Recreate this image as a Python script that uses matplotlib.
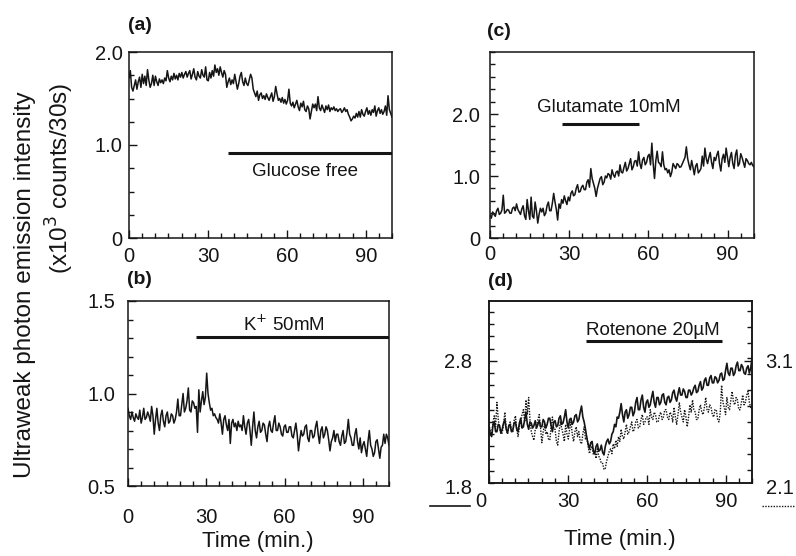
import numpy as np
import matplotlib
matplotlib.use("Agg")
import matplotlib.pyplot as plt
from matplotlib.lines import Line2D
from matplotlib.ticker import MultipleLocator
from matplotlib.transforms import ScaledTranslation

W, H = 796, 556

# emission traces, one sample per 30 s (0..100 min)
glucose_free = [
    1.72, 1.80, 1.62, 1.58, 1.64, 1.70, 1.60, 1.68, 1.73, 1.62, 1.76, 1.66, 1.74, 1.64, 1.81, 1.70, 1.62, 1.66, 1.75, 1.64,
    1.74, 1.68, 1.64, 1.71, 1.67, 1.70, 1.66, 1.72, 1.69, 1.80, 1.72, 1.68, 1.74, 1.70, 1.77, 1.71, 1.75, 1.70, 1.77, 1.73,
    1.78, 1.72, 1.76, 1.79, 1.73, 1.77, 1.80, 1.71, 1.76, 1.82, 1.73, 1.70, 1.79, 1.74, 1.72, 1.81, 1.75, 1.73, 1.84, 1.70,
    1.69, 1.78, 1.72, 1.80, 1.74, 1.86, 1.78, 1.82, 1.75, 1.84, 1.78, 1.73, 1.80, 1.76, 1.62, 1.68, 1.72, 1.65, 1.70, 1.66,
    1.76, 1.68, 1.60, 1.66, 1.74, 1.78, 1.68, 1.64, 1.72, 1.66, 1.64, 1.70, 1.76, 1.72, 1.60, 1.56, 1.52, 1.58, 1.48, 1.54,
    1.56, 1.50, 1.53, 1.49, 1.55, 1.51, 1.48, 1.52, 1.56, 1.47, 1.52, 1.63, 1.55, 1.48, 1.50, 1.46, 1.51, 1.45, 1.49, 1.44,
    1.48, 1.60, 1.45, 1.42, 1.46, 1.40, 1.44, 1.48, 1.41, 1.37, 1.45, 1.41, 1.47, 1.38, 1.36, 1.42, 1.39, 1.28, 1.36, 1.44,
    1.40, 1.44, 1.37, 1.52, 1.40, 1.37, 1.43, 1.39, 1.35, 1.42, 1.38, 1.43, 1.36, 1.40, 1.38, 1.41, 1.37, 1.39, 1.36, 1.38,
    1.39, 1.35, 1.37, 1.40, 1.36, 1.38, 1.33, 1.30, 1.26, 1.28, 1.31, 1.29, 1.34, 1.30, 1.36, 1.30, 1.38, 1.33, 1.31, 1.36,
    1.40, 1.33, 1.37, 1.32, 1.38, 1.35, 1.42, 1.31, 1.37, 1.40, 1.34, 1.38, 1.33, 1.36, 1.42, 1.32, 1.53, 1.38, 1.34, 1.30,
]
k_50mm = [
    0.92, 0.88, 0.86, 0.90, 0.87, 0.85, 0.89, 0.87, 0.86, 0.91, 0.84, 0.87, 0.92, 0.86, 0.87, 0.90, 0.88, 0.85, 0.93, 0.88,
    0.78, 0.86, 0.92, 0.84, 0.80, 0.88, 0.91, 0.85, 0.82, 0.88, 0.90, 0.84, 0.85, 0.89, 0.88, 0.84, 0.86, 0.90, 0.97, 0.88,
    0.88, 0.94, 1.00, 0.90, 0.92, 0.96, 1.03, 0.91, 0.90, 0.96, 0.95, 0.92, 0.93, 0.79, 1.02, 0.90, 0.96, 1.01, 0.94, 0.98,
    1.11, 1.00, 0.95, 0.91, 0.92, 0.88, 0.89, 0.87, 0.86, 0.84, 0.89, 0.84, 0.78, 0.86, 0.88, 0.83, 0.80, 0.86, 0.73, 0.84,
    0.86, 0.82, 0.84, 0.80, 0.85, 0.82, 0.83, 0.80, 0.88, 0.82, 0.78, 0.84, 0.86, 0.80, 0.72, 0.82, 0.90, 0.80, 0.76, 0.82,
    0.85, 0.79, 0.80, 0.84, 0.83, 0.78, 0.74, 0.82, 0.85, 0.80, 0.79, 0.84, 0.88, 0.80, 0.80, 0.84, 0.82, 0.78, 0.77, 0.82,
    0.83, 0.79, 0.79, 0.82, 0.82, 0.77, 0.76, 0.80, 0.84, 0.78, 0.69, 0.75, 0.80, 0.77, 0.78, 0.82, 0.83, 0.76, 0.74, 0.80,
    0.80, 0.76, 0.77, 0.82, 0.85, 0.78, 0.73, 0.80, 0.82, 0.76, 0.78, 0.82, 0.80, 0.75, 0.69, 0.74, 0.76, 0.80, 0.74, 0.78,
    0.78, 0.74, 0.72, 0.77, 0.80, 0.73, 0.74, 0.79, 0.86, 0.78, 0.76, 0.72, 0.72, 0.78, 0.81, 0.74, 0.70, 0.76, 0.68, 0.72,
    0.74, 0.70, 0.66, 0.74, 0.80, 0.72, 0.70, 0.66, 0.68, 0.74, 0.75, 0.70, 0.65, 0.71, 0.72, 0.78, 0.73, 0.78, 0.76, 0.72,
]
glutamate = [
    0.37, 0.32, 0.42, 0.38, 0.35, 0.44, 0.48, 0.38, 0.40, 0.45, 0.69, 0.40, 0.42, 0.46, 0.45, 0.40, 0.40, 0.48, 0.50, 0.44,
    0.55, 0.46, 0.42, 0.38, 0.47, 0.52, 0.36, 0.30, 0.62, 0.44, 0.30, 0.66, 0.35, 0.32, 0.58, 0.44, 0.24, 0.38, 0.48, 0.42,
    0.48, 0.36, 0.40, 0.52, 0.58, 0.44, 0.44, 0.56, 0.72, 0.58, 0.46, 0.29, 0.55, 0.48, 0.62, 0.56, 0.68, 0.60, 0.54, 0.66,
    0.60, 0.72, 0.76, 0.68, 0.70, 0.80, 0.86, 0.74, 0.75, 0.82, 0.85, 0.78, 0.78, 0.90, 0.94, 0.82, 1.12, 0.96, 0.88, 0.80,
    0.67, 0.80, 0.88, 0.96, 0.99, 0.86, 0.90, 1.00, 0.97, 1.04, 1.02, 0.95, 1.10, 1.02, 0.98, 1.06, 1.08, 1.00, 1.18, 1.06,
    1.05, 1.14, 1.22, 1.08, 1.12, 1.20, 1.28, 1.10, 1.15, 1.24, 1.25, 1.16, 1.39, 1.20, 1.12, 1.26, 1.30, 1.18, 1.22, 1.32,
    1.35, 1.18, 1.53, 1.20, 0.96, 1.25, 1.40, 1.22, 1.20, 1.15, 1.39, 1.18, 1.10, 1.12, 1.05, 1.10, 0.99, 1.06, 1.20, 1.16,
    1.12, 1.20, 1.18, 1.14, 1.15, 1.20, 1.25, 1.30, 1.47, 1.28, 1.18, 1.10, 1.25, 1.14, 1.02, 1.16, 1.20, 1.05, 1.08, 1.12,
    1.32, 1.16, 1.45, 1.28, 1.20, 1.30, 1.38, 1.22, 1.12, 1.30, 1.25, 1.34, 1.40, 1.20, 1.08, 1.28, 1.35, 1.22, 1.45, 1.30,
    1.15, 1.30, 1.38, 1.20, 1.12, 1.34, 1.42, 1.16, 1.20, 1.36, 1.30, 1.22, 1.14, 1.28, 1.25, 1.20, 1.18, 1.22, 1.17, 1.15,
]
rotenone_solid = [  # left scale
    2.26, 2.20, 2.18, 2.27, 2.30, 2.22, 2.22, 2.28, 2.27, 2.21, 2.24, 2.29, 2.32, 2.24, 2.21, 2.27, 2.28, 2.22, 2.23, 2.29,
    2.30, 2.24, 2.22, 2.29, 2.33, 2.25, 2.26, 2.32, 2.38, 2.28, 2.24, 2.30, 2.29, 2.25, 2.27, 2.31, 2.25, 2.28, 2.31, 2.26,
    2.26, 2.32, 2.30, 2.25, 2.28, 2.33, 2.33, 2.27, 2.22, 2.30, 2.31, 2.26, 2.27, 2.33, 2.35, 2.28, 2.29, 2.34, 2.40, 2.30,
    2.25, 2.32, 2.33, 2.28, 2.30, 2.35, 2.36, 2.30, 2.32, 2.38, 2.43, 2.34, 2.30, 2.24, 2.17, 2.12, 2.08, 2.13, 2.14, 2.06,
    2.04, 2.10, 2.12, 2.06, 2.07, 2.11, 2.05, 2.03, 2.10, 2.14, 2.16, 2.12, 2.14, 2.20, 2.22, 2.28, 2.26, 2.34, 2.33, 2.38,
    2.45, 2.36, 2.30, 2.38, 2.40, 2.33, 2.36, 2.42, 2.42, 2.35, 2.38, 2.46, 2.50, 2.40, 2.40, 2.48, 2.52, 2.42, 2.38, 2.46,
    2.48, 2.42, 2.44, 2.50, 2.55, 2.46, 2.42, 2.50, 2.50, 2.44, 2.46, 2.52, 2.53, 2.46, 2.44, 2.50, 2.51, 2.46, 2.48, 2.54,
    2.56, 2.50, 2.47, 2.53, 2.58, 2.52, 2.52, 2.57, 2.55, 2.50, 2.50, 2.56, 2.56, 2.52, 2.54, 2.58, 2.60, 2.54, 2.55, 2.60,
    2.63, 2.56, 2.58, 2.64, 2.66, 2.60, 2.60, 2.66, 2.68, 2.62, 2.62, 2.67, 2.66, 2.62, 2.64, 2.69, 2.70, 2.64, 2.65, 2.72,
    2.78, 2.70, 2.68, 2.74, 2.74, 2.68, 2.70, 2.76, 2.79, 2.72, 2.72, 2.77, 2.75, 2.70, 2.69, 2.74, 2.76, 2.70, 2.74, 2.82,
]
rotenone_dotted = [  # right scale
    2.58, 2.52, 2.50, 2.60, 2.65, 2.56, 2.76, 2.62, 2.55, 2.50, 2.51, 2.58, 2.68, 2.55, 2.50, 2.56, 2.60, 2.53, 2.52, 2.61,
    2.65, 2.54, 2.48, 2.56, 2.60, 2.66, 2.70, 2.60, 2.78, 2.66, 2.80, 2.62, 2.52, 2.48, 2.45, 2.54, 2.56, 2.62, 2.66, 2.55,
    2.43, 2.52, 2.58, 2.50, 2.52, 2.46, 2.45, 2.56, 2.64, 2.54, 2.54, 2.44, 2.41, 2.52, 2.60, 2.55, 2.50, 2.44, 2.58, 2.50,
    2.46, 2.54, 2.60, 2.50, 2.44, 2.52, 2.56, 2.48, 2.52, 2.44, 2.42, 2.50, 2.56, 2.46, 2.48, 2.40, 2.34, 2.38, 2.40, 2.33,
    2.36, 2.30, 2.38, 2.32, 2.30, 2.26, 2.26, 2.21, 2.22, 2.28, 2.32, 2.36, 2.38, 2.34, 2.42, 2.38, 2.45, 2.40, 2.48, 2.44,
    2.54, 2.48, 2.46, 2.52, 2.58, 2.50, 2.52, 2.56, 2.60, 2.52, 2.54, 2.60, 2.62, 2.55, 2.56, 2.62, 2.66, 2.58, 2.60, 2.64,
    2.64, 2.58, 2.70, 2.64, 2.62, 2.68, 2.66, 2.60, 2.60, 2.66, 2.68, 2.62, 2.64, 2.70, 2.70, 2.64, 2.62, 2.68, 2.66, 2.60,
    2.72, 2.64, 2.58, 2.66, 2.76, 2.68, 2.64, 2.60, 2.70, 2.64, 2.56, 2.64, 2.74, 2.68, 2.78, 2.70, 2.68, 2.62, 2.62, 2.70,
    2.74, 2.68, 2.66, 2.72, 2.80, 2.70, 2.68, 2.74, 2.72, 2.66, 2.64, 2.70, 2.70, 2.62, 2.60, 2.68, 2.90, 2.76, 2.72, 2.66,
    2.80, 2.72, 2.70, 2.78, 2.85, 2.76, 2.74, 2.80, 2.78, 2.70, 2.70, 2.76, 2.82, 2.74, 2.76, 2.82, 2.85, 2.76, 2.72, 2.70,
]
minutes = np.linspace(0, 100, len(glucose_free))

# treatment bars: (start, end, level), label
bar_a, text_a = (37.6, 100, 0.91), "Glucose free"
bar_b, text_b = (26, 100, 1.305), "K$^{+}$ 50mM"
bar_c, text_c = (27.3, 56.6, 1.84), "Glutamate 10mM"
bar_d, text_d = (36.9, 88.6, 2.96), "Rotenone 20\u00b5M"

plt.rcParams["font.family"] = ["Liberation Sans", "DejaVu Sans"]
ink = "#151515"
TICK = 14.5

fig = plt.figure(figsize=(W / 100, H / 100), dpi=100)


def box(l, t, r, b):
    return fig.add_axes([l / W, 1 - b / H, (r - l) / W, (b - t) / H])


def style(ax, ylim, yticks, ylabels, yminor, xpad, ypad):
    ax.set_xlim(0, 100)
    ax.set_ylim(*ylim)
    ax.set_xticks([0, 30, 60, 90], ["0", "30", "60", "90"])
    ax.xaxis.set_minor_locator(MultipleLocator(5))
    ax.set_yticks(yticks, ylabels)
    ax.yaxis.set_minor_locator(MultipleLocator(yminor))
    ax.tick_params(which="both", direction="in", color=ink, width=1)
    ax.tick_params(which="major", length=6)
    ax.tick_params(which="minor", length=3.5)
    ax.tick_params(axis="x", pad=xpad, labelsize=TICK, labelcolor=ink)
    ax.tick_params(axis="y", pad=ypad, labelsize=TICK, labelcolor=ink)
    for s in ax.spines.values():
        s.set_linewidth(1.1)
        s.set_color(ink)


def treatment(ax, bar, label, x, y):
    ax.plot(bar[:2], [bar[2], bar[2]], color=ink, lw=2.2, solid_capstyle="butt")
    ax.text(x, y, label, ha="center", va="center", fontsize=13.5, color=ink)


axa = box(129, 52, 392, 238)
axa.plot(minutes, glucose_free, color=ink, lw=1.1)
style(axa, (0, 2.0), [0, 1.0, 2.0], ["0", "1.0", "2.0"], 0.25, 6.5, 4.5)
treatment(axa, bar_a, text_a, 67, 0.71)

axb = box(128, 301, 389, 486)
axb.plot(minutes, k_50mm, color=ink, lw=1.1)
style(axb, (0.5, 1.5), [0.5, 1.0, 1.5], ["0.5", "1.0", "1.5"], 0.1, 16, 9)
treatment(axb, bar_b, text_b, 59.6, 1.37)

axc = box(490, 52, 754, 238)
axc.plot(minutes, glutamate, color=ink, lw=1.1)
style(axc, (0, 3.0), [0, 1.0, 2.0], ["0", "1.0", "2.0"], 0.2, 5, 7)
treatment(axc, bar_c, text_c, 45, 2.1)

axd = box(489, 301, 752, 483)
axd.plot(minutes, rotenone_solid, color=ink, lw=1.2, zorder=3)
style(axd, (1.8, 3.29), [2.8], ["2.8"], 0.1, 6.5, 12)
treatment(axd, bar_d, text_d, 62.4, 3.05)
zero = axd.get_xticklabels()[0]
zero.set_transform(zero.get_transform() + ScaledTranslation(-0.08, 0, fig.dpi_scale_trans))

axd2 = axd.twinx()
axd2.plot(minutes, rotenone_dotted, color=ink, lw=1.0, ls=(0, (1, 1)))
axd2.set_ylim(2.1, 3.59)
axd2.set_yticks([3.1], ["3.1"])
axd2.yaxis.set_minor_locator(MultipleLocator(0.13))
axd2.tick_params(which="both", direction="in", color=ink, width=1)
axd2.tick_params(which="major", length=6, pad=9.5, labelsize=TICK, labelcolor=ink)
axd2.tick_params(which="minor", length=3.5)
for s in axd2.spines.values():
    s.set_linewidth(1.1)
    s.set_color(ink)


def fpt(x, y):
    return x / W, 1 - y / H


# scale keys under panel (d)
fig.text(*fpt(459, 488), "1.8", ha="center", va="center", fontsize=TICK, color=ink)
fig.text(*fpt(780, 488), "2.1", ha="center", va="center", fontsize=TICK, color=ink)
fig.add_artist(Line2D([430 / W, 470 / W], [1 - 506 / H] * 2, color=ink, lw=1.2))
fig.add_artist(Line2D([762 / W, 795 / W], [1 - 506 / H] * 2, color=ink, lw=1.0,
                      ls=(0, (1, 1))))

for x, y, s in ((128, 25, "(a)"), (487, 32, "(c)"), (127, 280, "(b)"), (488, 281, "(d)")):
    fig.text(*fpt(x, y), s, ha="left", va="center", fontsize=14, fontweight="bold", color=ink)

fig.text(*fpt(258, 542), "Time (min.)", ha="center", va="center", fontsize=16, color=ink)
fig.text(*fpt(620, 539), "Time (min.)", ha="center", va="center", fontsize=16, color=ink)

fig.text(*fpt(25, 285), "Ultraweak photon emission intensity", rotation=90,
         ha="center", va="center", fontsize=17.5, color=ink)
fig.text(*fpt(60, 178), "(x10$^{3}$ counts/30s)", rotation=90,
         ha="center", va="center", fontsize=17.5, color=ink)

fig.savefig("out.png", dpi=100)
